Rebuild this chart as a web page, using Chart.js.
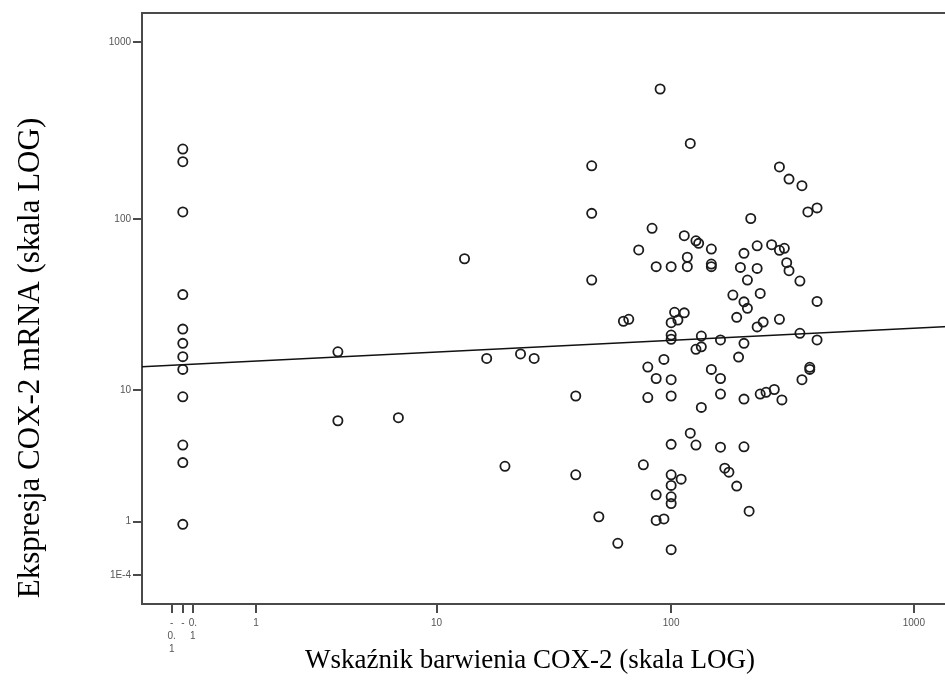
<!DOCTYPE html>
<html>
<head>
<meta charset="utf-8">
<script src="https://cdn.jsdelivr.net/npm/chart.js@4.4.1/dist/chart.umd.min.js"></script>
<style>
  html, body { margin: 0; padding: 0; background: #fff; overflow: hidden; }
  canvas { display: block; }
</style>
</head>
<body>
<!-- the plot box runs on past the right edge of the window, so the canvas is wider than the page -->
<canvas id="cox" width="1000" height="687"></canvas>
<script>
// COX-2 staining index (x) vs COX-2 mRNA expression (y), both on a log(v + 1) axis
const staining = [
  0, 0, 0, 0, 0, 0, 0, 0, 0, 0, 0, 0,
  13.33, 3.33, 16.67, 23.33, 26.67, 3.33, 6.67, 20,
  90, 120, 46.67, 280, 306.67, 346.67, 46.67, 400, 366.67, 213.33,
  83.33, 113.33, 126.67, 130, 146.67, 73.33, 200, 226.67, 260, 280,
  293.33, 116.67, 300,
  86.67, 100, 116.67, 146.67, 146.67, 193.33, 226.67, 306.67, 340, 46.67,
  206.67, 180, 233.33, 400, 200, 206.67, 103.33, 113.33, 186.67, 280,
  240, 226.67, 63.33, 66.67, 100, 106.67, 340, 100, 100, 133.33,
  160, 400, 200, 126.67, 133.33, 190, 93.33, 80, 146.67, 373.33,
  373.33, 86.67, 100, 160, 346.67, 40, 80, 100, 160, 200,
  233.33, 246.67, 266.67, 286.67, 133.33, 120, 100, 126.67, 160, 200,
  76.67, 40, 100, 110, 166.67, 173.33, 100, 186.67, 86.67, 100,
  100, 50, 86.67, 93.33, 210, 60, 100
];
const expression = [
  250, 212, 110, 37, 23.3, 19.2, 16, 13.4, 9.1, 4.4, 3.3, 0.93,
  59.5, 17.1, 15.6, 16.6, 15.6, 6.4, 6.7, 3.1,
  546, 269, 201, 198, 169, 155, 108, 116, 110, 101,
  88.8, 80.6, 75.4, 72.9, 67.6, 66.8, 63.9, 70.6, 71.6, 66.5,
  68.3, 60.7, 56.5,
  53.6, 53.6, 53.6, 55.5, 53.6, 53.1, 52.4, 50.8, 44.3, 44.9,
  44.9, 36.8, 37.6, 33.8, 33.6, 30.8, 29.2, 29.0, 27.3, 26.6,
  25.6, 24.0, 25.9, 26.6, 25.4, 26.3, 22.0, 21.5, 20.3, 21.2,
  20.1, 20.1, 19.2, 17.7, 18.3, 15.9, 15.4, 13.85, 13.4, 13.8,
  13.4, 11.8, 11.6, 11.8, 11.6, 9.2, 9.0, 9.2, 9.46, 8.8,
  9.46, 9.7, 10.1, 8.7, 7.8, 5.3, 4.45, 4.4, 4.25, 4.28,
  3.18, 2.67, 2.67, 2.47, 3.0, 2.8, 2.2, 2.17, 1.83, 1.76,
  1.53, 1.13, 1.03, 1.07, 1.29, 0.51, 0.39
];

// fitted linear trend, end points at the axis edges
const fitX = [-0.32, 2126];
const fitY = [13.9, 24.9];

const xRange = [-0.32, 2126];
const yRange = [-0.313, 1465];

const xTickValues = [-0.1, 0, 0.1, 1, 10, 100, 1000];
const xTickLabels = [['-', '0.', '1'], ['-'], ['0.', '1'], '1', '10', '100', '1000'];
const yTickValues = [0.0001, 1, 10, 100, 1000];
const yTickLabels = ['1E-4', '1', '10', '100', '1000'];

const xTitle = 'Wskaźnik barwienia COX-2 (skala LOG)';
const yTitle = 'Ekspresja COX-2 mRNA (skala LOG)';

const FRAME = '#4a4a4a';
const tr = (v) => Math.log10(v + 1);

const points = staining.map((x, i) => ({ x: tr(x), y: tr(expression[i]) }));
const fitLine = fitX.map((x, i) => ({ x: tr(x), y: tr(fitY[i]) }));

// top edge of the box plus the two serif axis titles
const frameAndTitles = {
  id: 'frameAndTitles',
  afterDraw(chart) {
    const { ctx, chartArea } = chart;
    ctx.save();
    ctx.strokeStyle = FRAME;
    ctx.lineWidth = 2;
    ctx.beginPath();
    ctx.moveTo(chartArea.left - 1, chartArea.top);
    ctx.lineTo(chartArea.right, chartArea.top);
    ctx.stroke();

    ctx.fillStyle = '#000';
    ctx.textAlign = 'center';
    ctx.textBaseline = 'middle';
    ctx.font = '27px "Liberation Serif", "Times New Roman", serif';
    ctx.fillText(xTitle, 530, 661);
    ctx.font = '31px "Liberation Serif", "Times New Roman", serif';
    ctx.translate(31, 358);
    ctx.rotate(-Math.PI / 2);
    ctx.fillText(yTitle, 0, 0);
    ctx.restore();
  }
};

const tickFont = { family: '"Liberation Sans", Arial, sans-serif', size: 10, lineHeight: 1.3 };

new Chart(document.getElementById('cox').getContext('2d'), {
  type: 'scatter',
  data: {
    datasets: [
      {
        type: 'line',
        data: fitLine,
        borderColor: '#111',
        borderWidth: 1.5,
        pointRadius: 0,
        fill: false
      },
      {
        data: points,
        pointRadius: 4.6,
        pointBorderWidth: 1.8,
        pointBorderColor: '#1c1c1c',
        pointBackgroundColor: 'rgba(0,0,0,0)',
        showLine: false
      }
    ]
  },
  options: {
    responsive: false,
    animation: false,
    layout: { padding: { top: 13, left: 0, right: 0, bottom: 0 } },
    plugins: {
      legend: { display: false },
      tooltip: { enabled: false }
    },
    scales: {
      x: {
        type: 'linear',
        min: tr(xRange[0]),
        max: tr(xRange[1]),
        afterBuildTicks: (scale) => {
          scale.ticks = xTickValues.map(v => ({ value: tr(v) }));
        },
        afterFit: (scale) => { scale.height = 83; },
        border: { display: true, color: FRAME, width: 2 },
        grid: { drawOnChartArea: false, drawTicks: true, tickLength: 9, color: FRAME, lineWidth: 2 },
        ticks: {
          autoSkip: false,
          maxRotation: 0,
          minRotation: 0,
          padding: 4,
          color: '#555',
          font: tickFont,
          callback: (value, index) => xTickLabels[index]
        }
      },
      y: {
        type: 'linear',
        min: tr(yRange[0]),
        max: tr(yRange[1]),
        afterBuildTicks: (scale) => {
          scale.ticks = yTickValues.map(v => ({ value: tr(v) }));
        },
        afterFit: (scale) => { scale.width = 142; },
        border: { display: true, color: FRAME, width: 2 },
        grid: { drawOnChartArea: false, drawTicks: true, tickLength: 9, color: FRAME, lineWidth: 2 },
        ticks: {
          autoSkip: false,
          padding: 2,
          color: '#555',
          font: tickFont,
          callback: (value, index) => yTickLabels[index]
        }
      }
    }
  },
  plugins: [frameAndTitles]
});
</script>
</body>
</html>
